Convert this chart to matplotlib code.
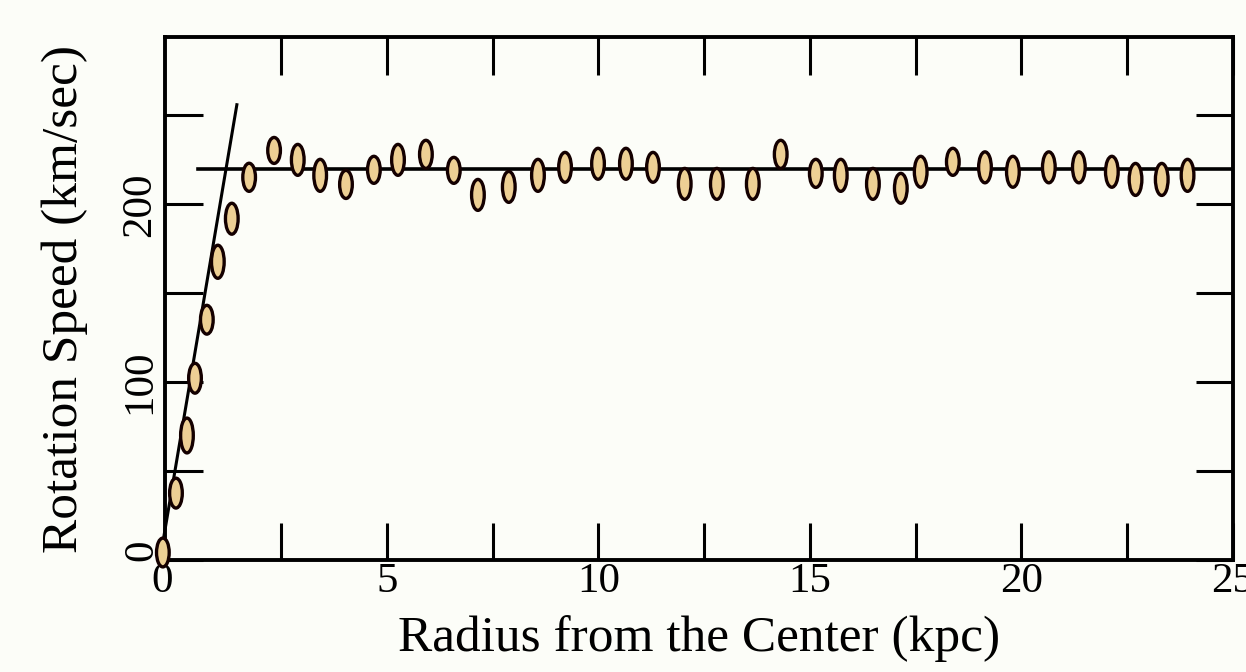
import matplotlib
matplotlib.use("Agg")
import matplotlib.pyplot as plt
from matplotlib.patches import Ellipse
from matplotlib.ticker import MultipleLocator
from matplotlib.transforms import ScaledTranslation

# Data
radius = [-0.30, 0.01, 0.27, 0.46, 0.74, 1.00, 1.33, 1.74, 2.33, 2.89, 3.42, 4.03,
          4.69, 5.26, 5.92, 6.58, 7.15, 7.88, 8.57, 9.21, 9.99, 10.65, 11.29, 12.04,
          12.80, 13.65, 14.31, 15.14, 15.73, 16.49, 17.15, 17.62, 18.38, 19.14, 19.80,
          20.65, 21.36, 22.14, 22.70, 23.32, 23.93]
speed = [4.2, 37.6, 70.0, 102.2, 135.1, 167.7, 191.9, 215.2, 230.3, 225.0, 216.3, 211.2,
         219.4, 225.0, 228.1, 219.1, 205.3, 209.8, 216.3, 220.8, 222.8, 222.8, 220.8, 211.5,
         211.5, 211.5, 228.1, 217.4, 216.3, 211.5, 209.0, 218.3, 223.9, 220.8, 218.3,
         220.8, 220.8, 218.3, 214.0, 214.0, 216.3]
error = [8.1, 8.4, 9.8, 8.4, 8.1, 9.3, 8.7, 7.9, 7.3, 8.7, 9.0, 7.9,
         7.6, 8.7, 7.9, 7.3, 8.7, 8.7, 9.0, 8.4, 8.7, 8.7, 8.4, 8.7,
         8.7, 8.7, 7.9, 7.9, 9.0, 8.7, 8.4, 8.7, 7.6, 8.7, 8.7,
         8.7, 8.7, 8.7, 9.0, 9.0, 9.0]

rise_x = [-0.37, 1.45]
rise_y = [0, 256]
flat_x = [0.53, 25.0]
flat_y = [220, 220]

x_major = [0, 5, 10, 15, 20, 25]
x_labels = ["0", "5", "10", "15", "20", "25"]
y_major = [0, 100, 200]
y_labels = ["0", "100", "200"]

bg = "#FCFDF8"
fig = plt.figure(figsize=(12.46, 6.72), dpi=100, facecolor=bg)
ax = fig.add_axes([0.1324, 0.1667, 0.857, 0.778], facecolor=bg)

ax.set_xlim(-0.25, 25)
ax.set_ylim(0, 294)

# lines
ax.plot(rise_x, rise_y, color="black", lw=2.2, zorder=2, clip_on=False)
ax.plot(flat_x, flat_y, color="black", lw=2.6, zorder=2)

# data points as ellipses
for xv, yv, ev in zip(radius, speed, error):
    e = Ellipse((xv, yv), width=0.30, height=2 * ev, facecolor="#EDCF94",
                edgecolor="#140000", lw=2.4, zorder=3, clip_on=False)
    ax.add_patch(e)

serif = ["Liberation Serif", "DejaVu Serif"]

ax.set_xticks(x_major)
ax.set_xticklabels(x_labels, fontsize=31, family=serif)
ax.set_yticks(y_major)
ax.set_yticklabels(y_labels, fontsize=31, family=serif, rotation=90, va="center")
ax.xaxis.set_minor_locator(MultipleLocator(2.5))
ax.yaxis.set_minor_locator(MultipleLocator(50))

ax.tick_params(which="both", direction="in", top=True, right=True,
               length=27, width=2.2, color="black")
ax.tick_params(axis="x", pad=2)
ax.tick_params(axis="y", pad=4)

# the origin tick sits on the frame in the reference
t0 = ax.xaxis.get_major_ticks()[0]
t0.tick1line.set_visible(False)
t0.tick2line.set_visible(False)
lab0 = ax.get_xticklabels()[0]
lab0.set_transform(lab0.get_transform() + ScaledTranslation(-0.13, 0, fig.dpi_scale_trans))
ylab0 = ax.get_yticklabels()[0]
ylab0.set_transform(ylab0.get_transform() + ScaledTranslation(0.02, 0.10, fig.dpi_scale_trans))

for s in ax.spines.values():
    s.set_linewidth(2.8)
    s.set_color("black")

ax.set_xlabel("Radius from the Center (kpc)", fontsize=37, family=serif, labelpad=10)
ax.set_ylabel("Rotation Speed (km/sec)", fontsize=37, family=serif, labelpad=24)

fig.savefig("out.png", dpi=100, facecolor=bg)
